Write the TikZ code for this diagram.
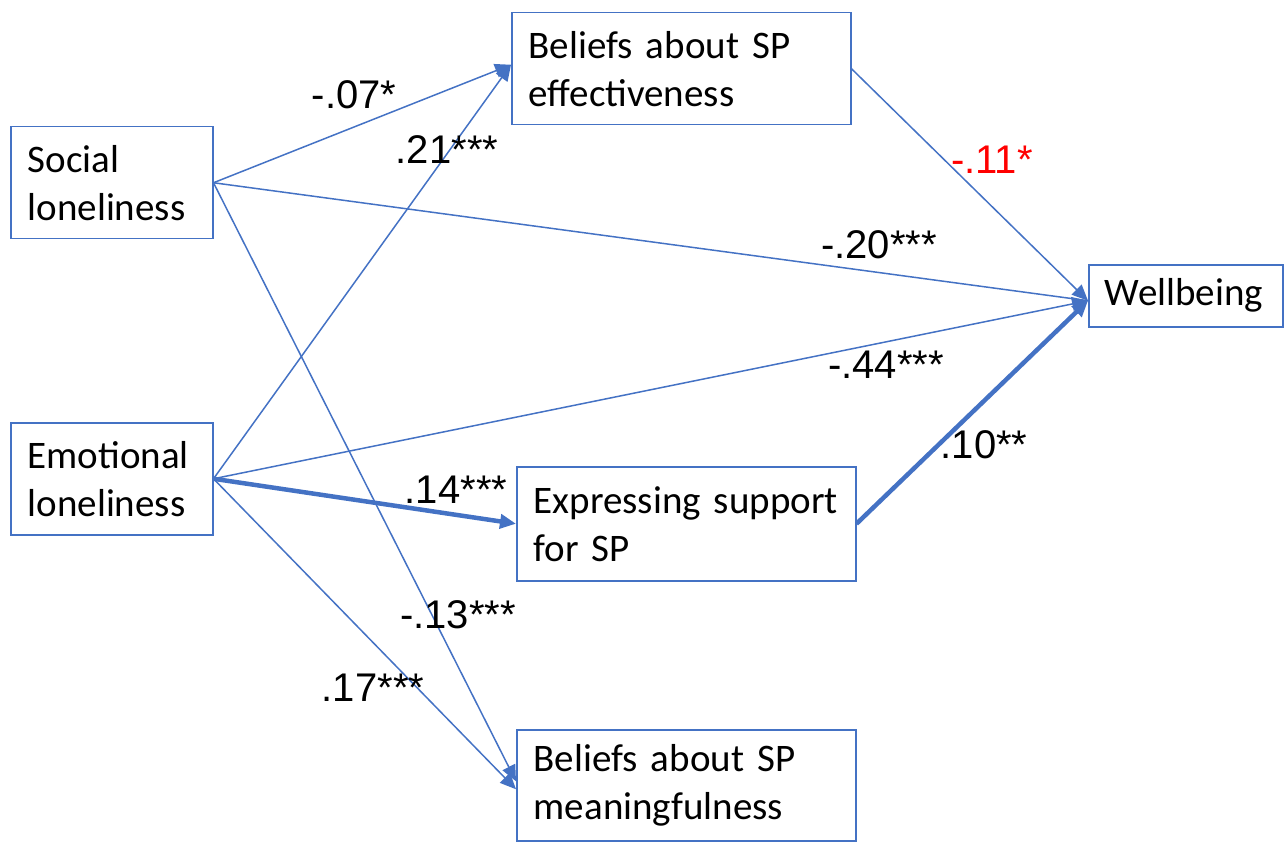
\documentclass[tikz,border=0pt]{standalone}
\usepackage{fontspec}
\setmainfont{Carlito}
\newfontfamily\lblfont{Liberation Sans}
\usetikzlibrary{arrows.meta}
\definecolor{obl}{HTML}{4472C4}
\definecolor{ored}{HTML}{FF0000}
\tikzset{
  box/.style={draw=obl, line width=1.5pt, rectangle, anchor=north west, inner xsep=17pt, inner ysep=0pt, align=left, font=\fontsize{39}{48}\selectfont},
  conn/.style={draw=obl, line width=1.5pt},
  thick conn/.style={draw=obl, line width=4.5pt},
  tip/.style={-{Triangle[length=16pt,width=14pt]}},
  lbl/.style={font=\lblfont\fontsize{40}{48}\selectfont, inner sep=0pt}
}
\begin{document}
\begin{tikzpicture}[x=1pt,y=-1pt]
\useasboundingbox (0,0) rectangle (1284,842);
% boxes
\node[box, text width=168pt, minimum height=112pt] (soc) at (10,126) {Social\\loneliness};
\node[box, text width=168pt, minimum height=112pt] (emo) at (10,422) {Emotional\\loneliness};
\node[box, text width=305pt, minimum height=112pt] (bel) at (511,12) {\mbox{Beliefs about SP}\\effectiveness};
\node[box, text width=305pt, minimum height=114pt] (exp) at (516,466) {\mbox{Expressing support}\\for SP};
\node[box, text width=305pt, minimum height=111pt] (mea) at (516,729) {\mbox{Beliefs about SP}\\meaningfulness};
\node[box, text width=162pt, minimum height=62pt, inner xsep=16pt] (wel) at (1088,264) {Wellbeing};
% connectors
\draw[conn, tip] (soc.east) -- ([yshift=4pt]bel.west);
\draw[conn] (soc.east) -- ([yshift=-5pt]wel.west);
\draw[conn, tip] (soc.east) -- ([yshift=4pt]mea.west);
\draw[conn, tip] (emo.east) -- ([yshift=4pt]bel.west);
\draw[conn, tip] (emo.east) -- ([yshift=-5pt]wel.west);
\draw[thick conn, tip] (emo.east) -- (exp.west);
\draw[conn, tip] (emo.east) -- ([yshift=-4pt]mea.west);
\draw[conn, tip] (bel.east) -- ([yshift=-5pt]wel.west);
\draw[thick conn, tip] (exp.east) -- ([yshift=-5pt]wel.west);
% labels
\node[lbl] (l1) at (354,95) {-.07*};
\node[lbl] (l2) at (447,150) {.21***};
\node[lbl, text=ored] (l3) at (992,160) {-.11*};
\node[lbl] (l4) at (879,245) {-.20***};
\node[lbl] (l5) at (886,365) {-.44***};
\node[lbl] (l6) at (984,445) {.10**};
\node[lbl] (l7) at (456,490) {.14***};
\node[lbl] (l8) at (458,615) {-.13***};
\node[lbl] (l9) at (373,688) {.17***};
\end{tikzpicture}
\end{document}
